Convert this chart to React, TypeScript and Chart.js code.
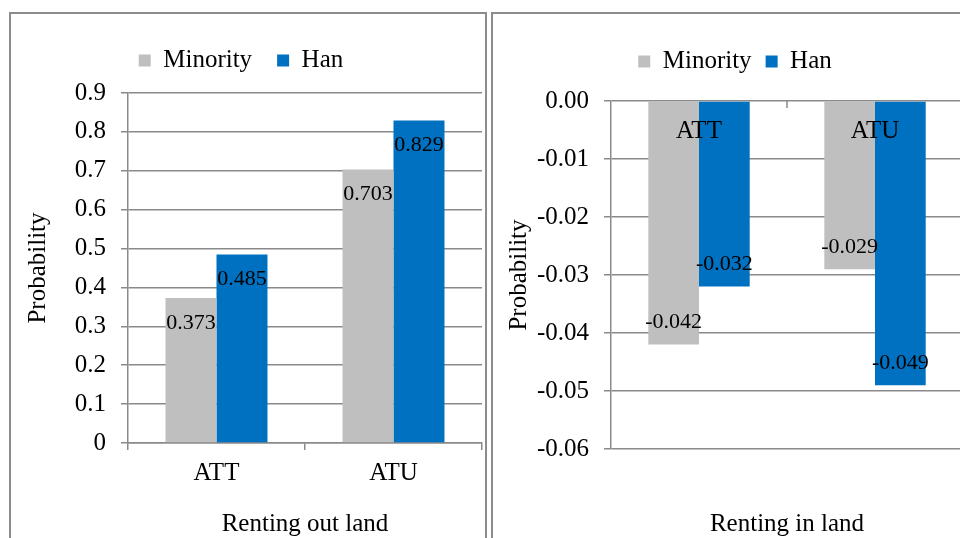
import { useEffect, useRef } from "react";
import { Chart, registerables } from "chart.js";

Chart.register(...registerables);

// ---------- data ----------
const seriesNames = ["Minority", "Han"];
const seriesColors = ["#BFBFBF", "#0070C0"];

const outCategories = ["ATT", "ATU"];
const outMinority = [0.373, 0.703];
const outHan = [0.485, 0.829];
const outRange = [0, 0.9, 0.1]; // min, max, step

const inCategories = ["ATT", "ATU"];
const inMinority = [-0.042, -0.029];
const inHan = [-0.032, -0.049];
const inRange = [-0.06, 0, 0.01]; // min, max, step

const outTitleX = "Renting out land";
const inTitleX = "Renting in land";
const titleY = "Probability";

// ---------- styles ----------
const FONT = "'Liberation Serif', 'Times New Roman', Times, serif";
const GRID = "#8a8a8a";
const TEXT = "#000000";
const FS = 25;

const valueLabels = (posOffset: number, negOffset: number) => ({
  id: "valueLabels",
  afterDatasetsDraw(chart: any) {
    const ctx = chart.ctx;
    ctx.save();
    ctx.font = `22px ${FONT}`;
    ctx.fillStyle = TEXT;
    ctx.textAlign = "center";
    ctx.textBaseline = "middle";
    chart.data.datasets.forEach((ds: any, di: number) => {
      const meta = chart.getDatasetMeta(di);
      meta.data.forEach((el: any, i: number) => {
        const v = ds.data[i] as number;
        const y = v >= 0 ? el.y + posOffset : el.y - negOffset;
        ctx.fillText(v.toFixed(3), el.x, y);
      });
    });
    ctx.restore();
  },
});

const innerCategoryLabels = {
  id: "innerCategoryLabels",
  afterDatasetsDraw(chart: any) {
    const ctx = chart.ctx;
    const xs = chart.scales.x;
    const ys = chart.scales.y;
    const y0 = ys.getPixelForValue(0);
    const labels = chart.data.labels as string[];
    ctx.save();
    ctx.strokeStyle = GRID;
    ctx.lineWidth = 1.5;
    const n = labels.length;
    const w = (xs.right - xs.left) / n;
    ctx.beginPath();
    for (let i = 1; i <= n; i++) {
      const bx = xs.left + i * w;
      ctx.moveTo(bx, y0);
      ctx.lineTo(bx, y0 + 7);
    }
    ctx.stroke();
    ctx.font = `${FS}px ${FONT}`;
    ctx.fillStyle = TEXT;
    ctx.textAlign = "center";
    ctx.textBaseline = "middle";
    labels.forEach((l, i) => {
      ctx.fillText(l, xs.getPixelForValue(i), y0 + 30);
    });
    ctx.restore();
  },
};

function makeDatasets(a: number[], b: number[]) {
  return [a, b].map((d, i) => ({
    label: seriesNames[i],
    data: d,
    backgroundColor: seriesColors[i],
    borderColor: seriesColors[i],
    borderWidth: 0,
    categoryPercentage: 0.576,
    barPercentage: 1,
  }));
}

function legendOpts(pad: number) {
  return {
    position: "top" as const,
    labels: {
      boxWidth: 12,
      boxHeight: 12,
      padding: pad,
      color: TEXT,
      font: { family: FONT, size: FS },
    },
  };
}

function spacer(h: number) {
  return {
    display: true,
    text: "",
    weight: 500,
    padding: 0,
    font: { size: h, lineHeight: 1 },
  };
}

function LeftChart() {
  const ref = useRef<HTMLCanvasElement>(null);
  useEffect(() => {
    if (!ref.current) return;
    const chart = new Chart(ref.current, {
      type: "bar",
      data: { labels: outCategories, datasets: makeDatasets(outMinority, outHan) },
      options: {
        responsive: false,
        animation: false,
        layout: { padding: { left: 0, right: 5, top: 23, bottom: 0 } },
        plugins: {
          legend: legendOpts(25),
          title: spacer(10),
          tooltip: { enabled: false },
        },
        scales: {
          x: {
            grid: {
              display: true,
              drawOnChartArea: false,
              drawTicks: true,
              tickLength: 7,
              offset: true,
              color: GRID,
              lineWidth: 1.5,
            },
            border: { display: true, color: GRID, width: 1.5 },
            ticks: { color: TEXT, padding: 8, font: { family: FONT, size: FS } },
            title: {
              display: true,
              text: outTitleX,
              color: TEXT,
              padding: { top: 0, bottom: 1 },
              font: { family: FONT, size: FS, lineHeight: 1 },
            },
            afterFit: (s: any) => {
              s.height = 95;
            },
          },
          y: {
            min: outRange[0],
            max: outRange[1],
            grid: { color: GRID, lineWidth: 1.5, tickLength: 7, drawTicks: true },
            border: { display: true, color: GRID, width: 1.5 },
            ticks: {
              stepSize: outRange[2],
              color: TEXT,
              padding: 15,
              font: { family: FONT, size: FS },
              callback: (v: any) => (Math.abs(v) < 1e-9 ? "0" : Number(v).toFixed(1)),
            },
            title: {
              display: true,
              text: titleY,
              color: TEXT,
              padding: { top: 25.5, bottom: 0 },
              font: { family: FONT, size: FS, lineHeight: 1 },
            },
            afterFit: (s: any) => {
              s.width = 128;
            },
          },
        },
      } as any,
      plugins: [valueLabels(25, 22)],
    });
    return () => chart.destroy();
  }, []);
  return (
    <canvas
      ref={ref}
      width={487}
      height={538}
      style={{ position: "absolute", left: 0, top: 0, width: 487, height: 538 }}
    />
  );
}

function RightChart() {
  const ref = useRef<HTMLCanvasElement>(null);
  useEffect(() => {
    if (!ref.current) return;
    const chart = new Chart(ref.current, {
      type: "bar",
      data: { labels: inCategories, datasets: makeDatasets(inMinority, inHan) },
      options: {
        responsive: false,
        animation: false,
        layout: { padding: { left: 13, right: 11, top: 35, bottom: 0 } },
        plugins: {
          legend: legendOpts(14),
          title: spacer(17),
          tooltip: { enabled: false },
        },
        scales: {
          x: {
            grid: { display: false },
            border: { display: false },
            ticks: { display: false },
            title: {
              display: true,
              text: inTitleX,
              color: TEXT,
              padding: { top: 0, bottom: 1 },
              font: { family: FONT, size: FS, lineHeight: 1 },
            },
            afterFit: (s: any) => {
              s.height = 89;
            },
          },
          y: {
            min: inRange[0],
            max: inRange[1],
            grid: { color: GRID, lineWidth: 1.5, tickLength: 7, drawTicks: true },
            border: { display: true, color: GRID, width: 1.5 },
            ticks: {
              stepSize: inRange[2],
              color: TEXT,
              padding: 15,
              font: { family: FONT, size: FS },
              callback: (v: any) => (Math.abs(v) < 1e-9 ? "0.00" : Number(v).toFixed(2)),
            },
            title: {
              display: true,
              text: titleY,
              color: TEXT,
              padding: { top: 0, bottom: 0 },
              font: { family: FONT, size: FS, lineHeight: 1 },
            },
            afterFit: (s: any) => {
              s.width = 104;
            },
          },
        },
      } as any,
      plugins: [valueLabels(25, 22), innerCategoryLabels],
    });
    return () => chart.destroy();
  }, []);
  return (
    <canvas
      ref={ref}
      width={480}
      height={538}
      style={{ position: "absolute", left: 494, top: 0, width: 480, height: 538 }}
    />
  );
}

export default function App() {
  return (
    <div
      style={{
        position: "fixed",
        left: 0,
        top: 0,
        width: 960,
        height: 538,
        overflow: "hidden",
        background: "#ffffff",
      }}
    >
      <div
        style={{
          position: "absolute",
          left: 9,
          top: 12,
          width: 478,
          height: 600,
          border: "2px solid #8c8c8c",
          boxSizing: "border-box",
        }}
      />
      <div
        style={{
          position: "absolute",
          left: 491,
          top: 12,
          width: 600,
          height: 600,
          border: "2px solid #8c8c8c",
          boxSizing: "border-box",
        }}
      />
      <LeftChart />
      <RightChart />
    </div>
  );
}
